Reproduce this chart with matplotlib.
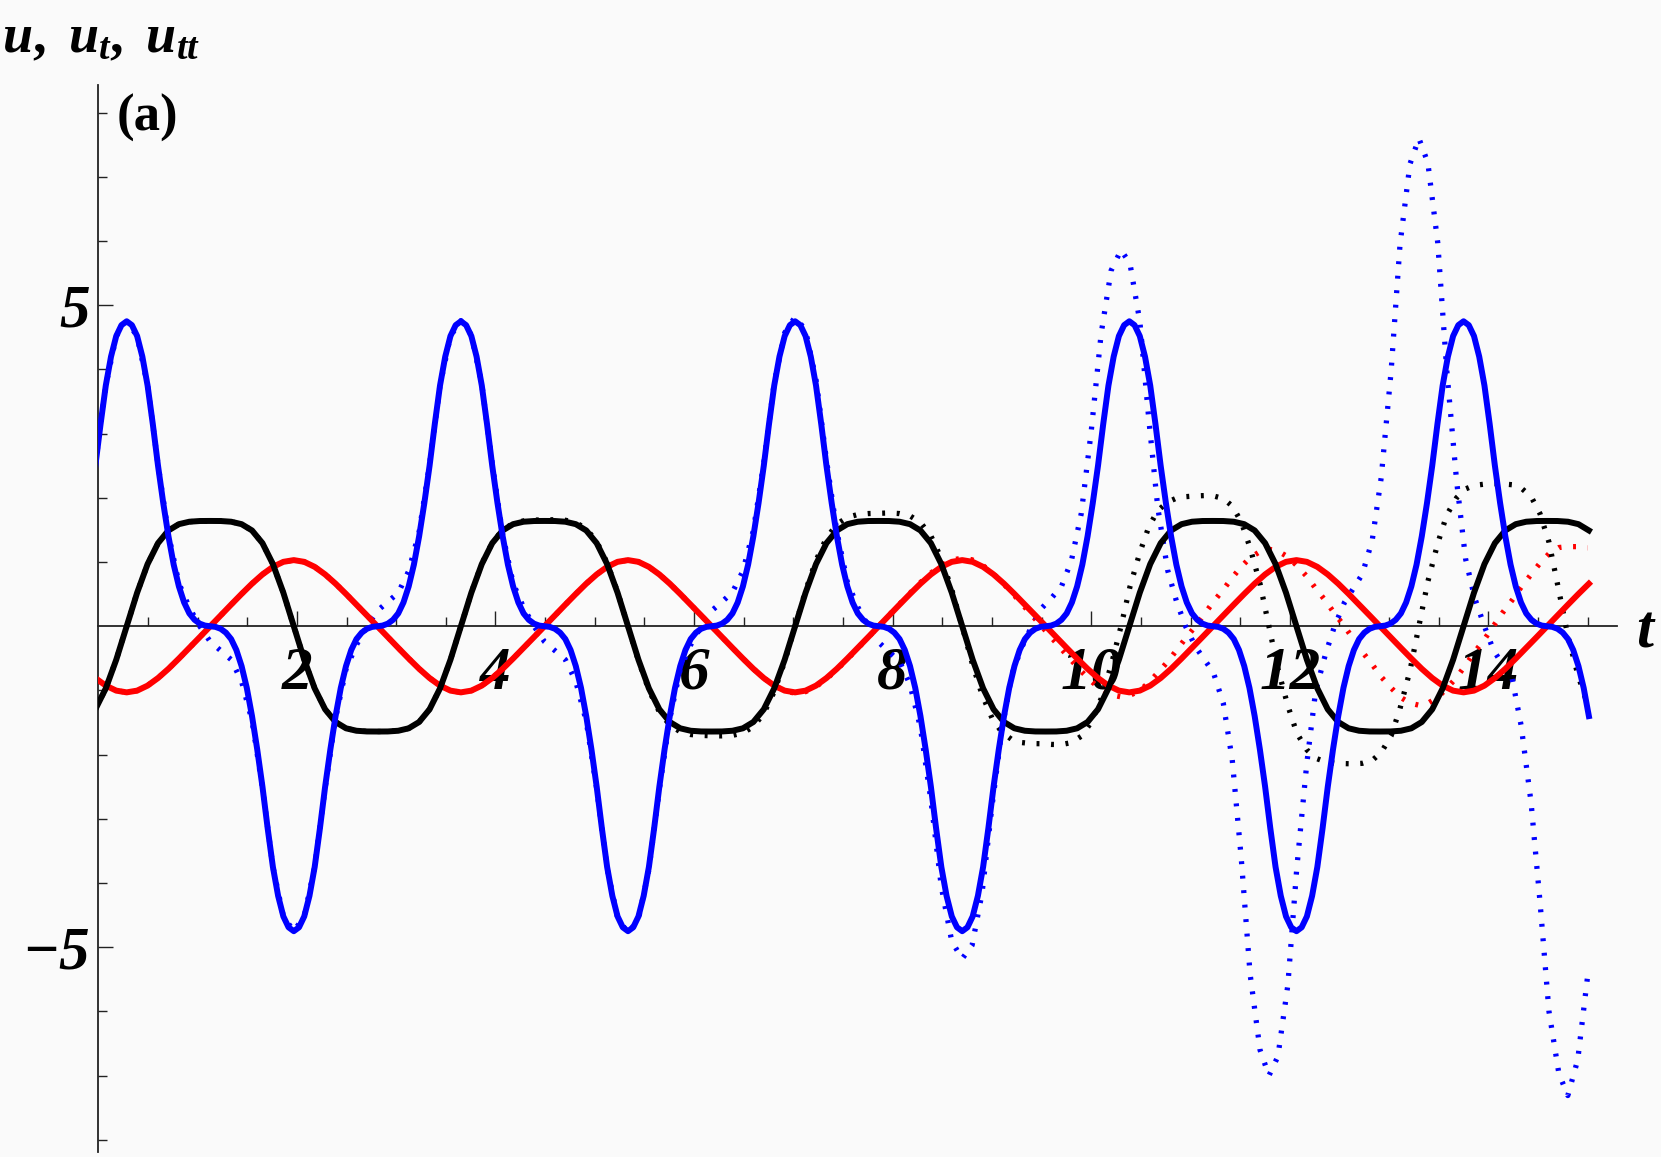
import matplotlib
matplotlib.use("Agg")
import matplotlib.pyplot as plt
import numpy as np

plt.rcParams["mathtext.fontset"] = "custom"
plt.rcParams["mathtext.rm"] = "Liberation Serif:bold"
plt.rcParams["mathtext.it"] = "Liberation Serif:bold:italic"
plt.rcParams["mathtext.bf"] = "Liberation Serif:bold"

# sample times: every 1/32 of the period (~3.366) and every 1/64 for u_tt
t_solid = np.linspace(-0.03, 15.012, 144)
t_fine = np.linspace(-0.03, 15.012, 287)

# solid curves
u_solid = [
    -0.807, -0.925, -1.003,
    -1.03, -1.003, -0.925, -0.807, -0.663, -0.503, -0.337, -0.169, 0.0, 0.169, 0.337, 0.503, 0.663, 0.807, 0.925, 1.003,
    1.03, 1.003, 0.925, 0.807, 0.663, 0.503, 0.337, 0.169, 0.0, -0.169, -0.337, -0.503, -0.663, -0.807, -0.925, -1.003,
    -1.03, -1.003, -0.925, -0.807, -0.663, -0.503, -0.337, -0.169, 0.0, 0.169, 0.337, 0.503, 0.663, 0.807, 0.925, 1.003,
    1.03, 1.003, 0.925, 0.807, 0.663, 0.503, 0.337, 0.169, 0.0, -0.169, -0.337, -0.503, -0.663, -0.807, -0.925, -1.003,
    -1.03, -1.003, -0.925, -0.807, -0.663, -0.503, -0.337, -0.169, 0.0, 0.169, 0.337, 0.503, 0.663, 0.807, 0.925, 1.003,
    1.03, 1.003, 0.925, 0.807, 0.663, 0.503, 0.337, 0.169, 0.0, -0.169, -0.337, -0.503, -0.663, -0.807, -0.925, -1.003,
    -1.03, -1.003, -0.925, -0.807, -0.663, -0.503, -0.337, -0.169, 0.0, 0.169, 0.337, 0.503, 0.663, 0.807, 0.925, 1.003,
    1.03, 1.003, 0.925, 0.807, 0.663, 0.503, 0.337, 0.169, 0.0, -0.169, -0.337, -0.503, -0.663, -0.807, -0.925, -1.003,
    -1.03, -1.003, -0.925, -0.807, -0.663, -0.503, -0.337, -0.169, 0.0, 0.169, 0.337, 0.503, 0.663,
]
ut_solid = [
    -1.294, -0.968, -0.522,
    0.0, 0.522, 0.968, 1.294, 1.492, 1.59, 1.628, 1.639, 1.64, 1.639, 1.628, 1.59, 1.492, 1.294, 0.968, 0.522,
    0.0, -0.522, -0.968, -1.294, -1.492, -1.59, -1.628, -1.639, -1.64, -1.639, -1.628, -1.59, -1.492, -1.294, -0.968, -0.522,
    0.0, 0.522, 0.968, 1.294, 1.492, 1.59, 1.628, 1.639, 1.64, 1.639, 1.628, 1.59, 1.492, 1.294, 0.968, 0.522,
    0.0, -0.522, -0.968, -1.294, -1.492, -1.59, -1.628, -1.639, -1.64, -1.639, -1.628, -1.59, -1.492, -1.294, -0.968, -0.522,
    0.0, 0.522, 0.968, 1.294, 1.492, 1.59, 1.628, 1.639, 1.64, 1.639, 1.628, 1.59, 1.492, 1.294, 0.968, 0.522,
    0.0, -0.522, -0.968, -1.294, -1.492, -1.59, -1.628, -1.639, -1.64, -1.639, -1.628, -1.59, -1.492, -1.294, -0.968, -0.522,
    0.0, 0.522, 0.968, 1.294, 1.492, 1.59, 1.628, 1.639, 1.64, 1.639, 1.628, 1.59, 1.492, 1.294, 0.968, 0.522,
    0.0, -0.522, -0.968, -1.294, -1.492, -1.59, -1.628, -1.639, -1.64, -1.639, -1.628, -1.59, -1.492, -1.294, -0.968, -0.522,
    0.0, 0.522, 0.968, 1.294, 1.492, 1.59, 1.628, 1.639, 1.64, 1.639, 1.628, 1.59, 1.492,
]
utt_solid = [
    2.5, 3.15, 3.75, 4.2, 4.52, 4.69,
    4.75, 4.69, 4.52, 4.2, 3.75, 3.15, 2.5, 1.92, 1.4, 0.96, 0.62, 0.37, 0.2, 0.1, 0.04, 0.01,
    0.0, -0.01, -0.04, -0.1, -0.2, -0.37, -0.62, -0.96, -1.4, -1.92, -2.5, -3.15, -3.75, -4.2, -4.52, -4.69,
    -4.75, -4.69, -4.52, -4.2, -3.75, -3.15, -2.5, -1.92, -1.4, -0.96, -0.62, -0.37, -0.2, -0.1, -0.04, -0.01,
    0.0, 0.01, 0.04, 0.1, 0.2, 0.37, 0.62, 0.96, 1.4, 1.92, 2.5, 3.15, 3.75, 4.2, 4.52, 4.69,
    4.75, 4.69, 4.52, 4.2, 3.75, 3.15, 2.5, 1.92, 1.4, 0.96, 0.62, 0.37, 0.2, 0.1, 0.04, 0.01,
    0.0, -0.01, -0.04, -0.1, -0.2, -0.37, -0.62, -0.96, -1.4, -1.92, -2.5, -3.15, -3.75, -4.2, -4.52, -4.69,
    -4.75, -4.69, -4.52, -4.2, -3.75, -3.15, -2.5, -1.92, -1.4, -0.96, -0.62, -0.37, -0.2, -0.1, -0.04, -0.01,
    0.0, 0.01, 0.04, 0.1, 0.2, 0.37, 0.62, 0.96, 1.4, 1.92, 2.5, 3.15, 3.75, 4.2, 4.52, 4.69,
    4.75, 4.69, 4.52, 4.2, 3.75, 3.15, 2.5, 1.92, 1.4, 0.96, 0.62, 0.37, 0.2, 0.1, 0.04, 0.01,
    0.0, -0.01, -0.04, -0.1, -0.2, -0.37, -0.62, -0.96, -1.4, -1.92, -2.5, -3.15, -3.75, -4.2, -4.52, -4.69,
    -4.75, -4.69, -4.52, -4.2, -3.75, -3.15, -2.5, -1.92, -1.4, -0.96, -0.62, -0.37, -0.2, -0.1, -0.04, -0.01,
    0.0, 0.01, 0.04, 0.1, 0.2, 0.37, 0.62, 0.96, 1.4, 1.92, 2.5, 3.15, 3.75, 4.2, 4.52, 4.69,
    4.75, 4.69, 4.52, 4.2, 3.75, 3.15, 2.5, 1.92, 1.4, 0.96, 0.62, 0.37, 0.2, 0.1, 0.04, 0.01,
    0.0, -0.01, -0.04, -0.1, -0.2, -0.37, -0.62, -0.96, -1.4, -1.92, -2.5, -3.15, -3.75, -4.2, -4.52, -4.69,
    -4.75, -4.69, -4.52, -4.2, -3.75, -3.15, -2.5, -1.92, -1.4, -0.96, -0.62, -0.37, -0.2, -0.1, -0.04, -0.01,
    0.0, 0.01, 0.04, 0.1, 0.2, 0.37, 0.62, 0.96, 1.4, 1.92, 2.5, 3.15, 3.75, 4.2, 4.52, 4.69,
    4.75, 4.69, 4.52, 4.2, 3.75, 3.15, 2.5, 1.92, 1.4, 0.96, 0.62, 0.37, 0.2, 0.1, 0.04, 0.01,
    0.0, -0.01, -0.04, -0.1, -0.2, -0.37, -0.62, -0.96, -1.4,
]

# dotted (approximate) curves: same grid up to t ~ 8.6, then read point by point
t_dot_late = [
    8.70, 8.80, 8.90, 9.00, 9.10, 9.20, 9.30, 9.40,
    9.50, 9.60, 9.70, 9.80, 9.90, 10.00, 10.10, 10.20,
    10.30, 10.39, 10.49, 10.58, 10.67, 10.77, 10.86, 10.95,
    11.05, 11.14, 11.23, 11.33, 11.42, 11.51, 11.60, 11.70,
    11.79, 11.88, 11.98, 12.07, 12.17, 12.26, 12.36, 12.45,
    12.55, 12.64, 12.73, 12.83, 12.92, 13.02, 13.11, 13.21,
    13.30, 13.39, 13.49, 13.58, 13.68, 13.77, 13.86, 13.96,
    14.05, 14.14, 14.24, 14.33, 14.43, 14.52, 14.61, 14.71,
    14.80, 14.90, 15.00,
]
u_dot = [
    -0.807, -0.925, -1.003,
    -1.03, -1.003, -0.925, -0.807, -0.663, -0.503, -0.337, -0.169, 0.0, 0.169, 0.337, 0.503, 0.663, 0.807, 0.925, 1.003,
    1.03, 1.003, 0.925, 0.807, 0.663, 0.503, 0.337, 0.169, 0.0, -0.169, -0.337, -0.503, -0.663, -0.807, -0.925, -1.003,
    -1.03, -1.003, -0.925, -0.807, -0.663, -0.503, -0.337, -0.169, 0.0, 0.169, 0.337, 0.503, 0.663, 0.807, 0.925, 1.003,
    1.03, 1.003, 0.925, 0.807, 0.663, 0.503, 0.337, 0.169, 0.0, -0.169, -0.337, -0.503, -0.663, -0.807, -0.925, -1.003,
    -1.045, -1.019, -0.940, -0.821, -0.675, -0.513, -0.344, -0.173, 0.0, 0.173, 0.345, 0.515, 0.681, 0.829, 0.951, 1.031,
    1.06, 1.035, 0.956, 0.837, 0.689, 0.524, 0.352, 0.177,
    0.0, -0.178, -0.355, -0.531, -0.702, -0.857, -0.983, -1.069,
    -1.10, -1.077, -0.999, -0.877, -0.725, -0.552, -0.372, -0.188,
    0.0, 0.19, 0.38, 0.57, 0.757, 0.926, 1.067, 1.163,
    1.2, 1.171, 1.081, 0.946, 0.778, 0.59, 0.396, 0.199,
    0.0, -0.2, -0.399, -0.596, -0.788, -0.96, -1.102, -1.197,
    -1.23, -1.2, -1.108, -0.969, -0.797, -0.605, -0.406, -0.204,
    0.0, 0.205, 0.408, 0.61, 0.807, 0.984, 1.129, 1.226,
    1.24, 1.24, 1.22,
]
ut_dot = [
    -1.294, -0.968, -0.522,
    0.0, 0.522, 0.968, 1.294, 1.492, 1.59, 1.628, 1.639, 1.64, 1.639, 1.628, 1.59, 1.492, 1.294, 0.968, 0.522,
    0.0, -0.522, -0.968, -1.294, -1.492, -1.59, -1.628, -1.639, -1.64, -1.639, -1.628, -1.59, -1.492, -1.294, -0.968, -0.522,
    0.0, 0.525, 0.974, 1.302, 1.502, 1.601, 1.641, 1.654, 1.656, 1.659, 1.651, 1.615, 1.518, 1.319, 0.988, 0.534,
    0.0, -0.536, -0.996, -1.334, -1.540, -1.644, -1.687, -1.701, -1.706, -1.708, -1.700, -1.663, -1.564, -1.359, -1.018, -0.550,
    0.0, 0.552, 1.026, 1.374, 1.589, 1.697, 1.740, 1.755, 1.760, 1.764, 1.755, 1.719, 1.617, 1.407, 1.054, 0.570,
    0.0, -0.572, -1.065, -1.428, -1.652, -1.765, -1.812, -1.828,
    -1.83, -1.841, -1.843, -1.813, -1.713, -1.495, -1.126, -0.611,
    0.0, 0.615, 1.151, 1.55, 1.80, 1.935, 1.996, 2.018,
    2.03, 2.035, 2.03, 1.989, 1.872, 1.628, 1.222, 0.661,
    0.0, -0.665, -1.238, -1.662, -1.923, -2.056, -2.112, -2.132,
    -2.14, -2.143, -2.135, -2.09, -1.966, -1.708, -1.28, -0.692,
    0.0, 0.695, 1.292, 1.732, 2.002, 2.139, 2.195, 2.213,
    2.22, 2.218, 2.204, 2.153, 2.02, 1.752, 1.31, 0.55,
    -0.15, -0.75, -1.23,
]
utt_dot = [
    2.52, 3.75, 4.52,
    4.75, 4.52, 3.75, 2.52, 1.43, 0.67, 0.29, 0.0, -0.24, -0.38, -0.52, -0.86, -1.47, -2.52, -3.75, -4.52,
    -4.75, -4.52, -3.75, -2.52, -1.43, -0.67, -0.29, 0.0, 0.24, 0.38, 0.52, 0.86, 1.47, 2.52, 3.75, 4.52,
    4.76, 4.54, 3.77, 2.53, 1.43, 0.67, 0.29, 0.0, -0.24, -0.38, -0.52, -0.86, -1.48, -2.53, -3.77, -4.54,
    -4.78, -4.56, -3.79, -2.54, -1.44, -0.67, -0.29, 0.0, 0.24, 0.38, 0.53, 0.86, 1.49, 2.54, 3.79, 4.57,
    4.82, 4.61, 3.84, 2.59, 1.47, 0.69, 0.30, 0.0, -0.25, -0.40, -0.55, -0.91, -1.58, -2.71, -4.06, -4.91,
    -5.18, -4.97, -4.16, -2.81, -1.61, -0.75, -0.33, 0.0,
    0.28, 0.44, 0.62, 1.02, 1.76, 3.04, 4.56, 5.54,
    5.86, 5.65, 4.74, 3.22, 1.85, 0.87, 0.38, 0.0,
    -0.32, -0.52, -0.72, -1.20, -2.08, -3.60, -5.42, -6.60,
    -7.0, -6.70, -5.59, -3.77, -2.15, -1.01, -0.43, 0.0,
    0.37, 0.59, 0.81, 1.34, 2.31, 3.97, 5.95, 7.20,
    7.6, 7.22, 5.97, 4.00, 2.26, 1.05, 0.45, 0.0,
    -0.37, -0.59, -0.82, -1.55, -2.75, -4.30, -6.00, -6.97,
    -7.31, -6.75, -5.44,
]
t_dot = np.concatenate([t_solid[:83], t_dot_late])

x_major = [2, 4, 6, 8, 10, 12, 14]
x_minor = [0.5, 1, 1.5, 2.5, 3, 3.5, 4.5, 5, 5.5, 6.5, 7, 7.5, 8.5, 9, 9.5,
           10.5, 11, 11.5, 12.5, 13, 13.5, 14.5, 15]
y_major = [-5, 5]
y_minor = [-8, -7, -6, -4, -3, -2, -1, 1, 2, 3, 4, 6, 7, 8]

bg = "#fafafa"
fig = plt.figure(figsize=(16.61, 11.57), dpi=100, facecolor=bg)
ax = fig.add_axes([0.0592, 0.0043, 0.9146, 0.9222])
ax.set_facecolor(bg)

lw = 4.3
dlw = 3.8
dot = (0, (0.55, 2.2))
ax.plot(t_dot, u_dot, color="red", lw=dlw, ls=dot, dash_capstyle="butt")
ax.plot(t_dot, ut_dot, color="black", lw=dlw, ls=dot, dash_capstyle="butt")
ax.plot(t_dot, utt_dot, color="blue", lw=dlw, ls=dot, dash_capstyle="butt")
ax.plot(t_solid, u_solid, color="red", lw=lw)
ax.plot(t_solid, ut_solid, color="black", lw=lw)
ax.plot(t_fine, utt_solid, color="blue", lw=lw)

ax.set_xlim(0, 15.3)
ax.set_ylim(-8.19, 8.43)

for side in ["top", "right"]:
    ax.spines[side].set_visible(False)
ax.spines["bottom"].set_position(("data", 0))
ax.spines["left"].set_position(("data", 0))
for side in ["bottom", "left"]:
    ax.spines[side].set_linewidth(1.3)
    ax.spines[side].set_color("#222222")
    ax.spines[side].set_zorder(0.5)

tick_font = {"family": "Liberation Serif", "weight": "bold", "style": "italic", "size": 44}
ax.set_xticks(x_major)
ax.set_xticks(x_minor, minor=True)
ax.set_xticklabels([str(v) for v in x_major], fontdict=tick_font)
ax.set_yticks(y_major)
ax.set_yticks(y_minor, minor=True)
ax.set_yticklabels(["\u22125", "5"], fontdict=tick_font)
ax.tick_params(which="major", direction="in", length=10.5, width=1.0, color="#222222")
ax.tick_params(which="minor", direction="in", length=6.3, width=1.0, color="#222222")
ax.tick_params(axis="x", which="major", pad=14)
ax.tick_params(axis="y", which="major", pad=6)

fig.text(0.001, 1 - 52 / 1157, r"$u,\ u_t,\ u_{tt}$", fontsize=39, ha="left", va="baseline")
fig.text(117 / 1661, 1 - 131 / 1157, "(a)", fontsize=38, family="Liberation Serif",
         weight="bold", ha="left", va="baseline")
fig.text(1645 / 1661, 1 - 648 / 1157, "t", fontsize=44, family="Liberation Serif",
         weight="bold", style="italic", ha="center", va="baseline")

fig.savefig("out.png", dpi=100, facecolor=bg)
